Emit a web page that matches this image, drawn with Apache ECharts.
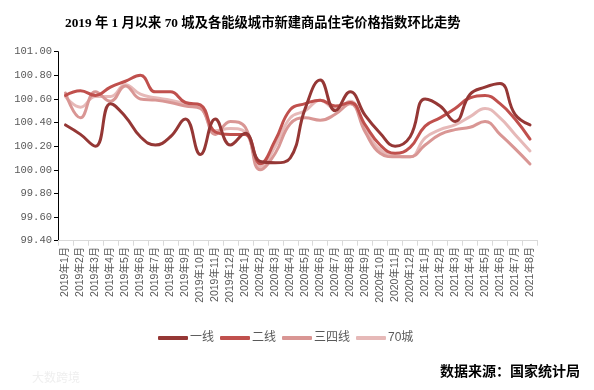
<!DOCTYPE html>
<html>
<head>
<meta charset="utf-8">
<script src="https://cdn.jsdelivr.net/npm/echarts@6/dist/echarts.min.js"></script>
<style>
html,body{margin:0;padding:0;background:#fff;}
#chart{width:594px;height:390px;}
</style>
</head>
<body>
<div id="chart"></div>
<script>
var categories = ['2019年1月','2019年2月','2019年3月','2019年4月','2019年5月','2019年6月','2019年7月','2019年8月','2019年9月','2019年10月','2019年11月','2019年12月',
  '2020年1月','2020年2月','2020年3月','2020年4月','2020年5月','2020年6月','2020年7月','2020年8月','2020年9月','2020年10月','2020年11月','2020年12月',
  '2021年1月','2021年2月','2021年3月','2021年4月','2021年5月','2021年6月','2021年7月','2021年8月'];
var tier1 = [100.38,100.30,100.20,100.56,100.45,100.28,100.21,100.28,100.43,100.13,100.43,100.21,
  100.31,100.07,100.06,100.10,100.52,100.76,100.50,100.66,100.46,100.31,100.20,100.28,
  100.60,100.54,100.41,100.64,100.70,100.73,100.47,100.38];
var tier2 = [100.63,100.67,100.63,100.70,100.75,100.80,100.66,100.66,100.57,100.55,100.32,100.30,
  100.30,100.05,100.25,100.51,100.56,100.59,100.54,100.57,100.38,100.21,100.14,100.19,
  100.37,100.44,100.52,100.61,100.63,100.56,100.43,100.26];
var tier34 = [100.65,100.44,100.66,100.58,100.71,100.60,100.59,100.57,100.54,100.52,100.30,100.41,
  100.36,100.00,100.14,100.39,100.44,100.42,100.47,100.56,100.32,100.14,100.11,100.11,
  100.21,100.30,100.34,100.36,100.41,100.30,100.18,100.05];
var city70 = [100.62,100.53,100.62,100.62,100.72,100.64,100.61,100.59,100.56,100.53,100.33,100.35,
  100.32,100.02,100.20,100.44,100.50,100.59,100.52,100.58,100.34,100.17,100.12,100.11,
  100.27,100.34,100.38,100.45,100.52,100.44,100.30,100.16];
var seriesNames = ['一线','二线','三四线','70城'];
var seriesColors = ['#953735','#C0504D','#D99694','#E6B9B8'];
var yTicks = {min: 99.4, max: 101.0, interval: 0.2};

var chart = echarts.init(document.getElementById('chart'), null, {renderer:'canvas'});
var dataList = [tier1, tier2, tier34, city70];
var series = dataList.map(function(d, i){
  return {
    name: seriesNames[i], type: 'line', data: d, smooth: 0.45,
    showSymbol: false, symbol: 'none',
    lineStyle: {width: 3, color: seriesColors[i], cap: 'round', join: 'round'},
    itemStyle: {color: seriesColors[i]},
    z: 10 - i
  };
});
chart.setOption({
  animation: false,
  backgroundColor: '#fff',
  title: {
    text: '2019 年 1 月以来 70 城及各能级城市新建商品住宅价格指数环比走势',
    left: 60, top: 12,
    textStyle: {fontSize: 13.3, fontWeight: 'bold', color: '#000', fontFamily: '"Liberation Serif","Noto Sans CJK SC"'}
  },
  legend: {
    data: seriesNames, left: 153, top: 327,
    icon: 'roundRect', itemWidth: 30, itemHeight: 4, itemGap: 6,
    textStyle: {fontSize: 12, color: '#595959', fontFamily: '"Liberation Sans","Noto Sans CJK SC"', padding: [0,0,0,-3]}
  },
  grid: {left: 58, right: 56.5, top: 51.7, bottom: 149.3, containLabel: false},
  xAxis: {
    type: 'category', data: categories, boundaryGap: true,
    axisLine: {lineStyle: {color: '#d9d9d9', width: 1}},
    axisTick: {show: true, alignWithLabel: false, length: 5, lineStyle: {color: '#d9d9d9'}},
    axisLabel: {interval: 0, rotate: 90, fontSize: 10.5, color: '#595959', margin: 6,
      fontFamily: '"Liberation Sans","Noto Sans CJK SC"'},
    splitLine: {show: false}
  },
  yAxis: {
    type: 'value', min: yTicks.min, max: yTicks.max, interval: yTicks.interval,
    axisLine: {show: true, lineStyle: {color: '#000', width: 1}},
    axisTick: {show: true, length: 4, lineStyle: {color: '#000'}},
    axisLabel: {fontSize: 10.5, color: '#595959', margin: 6, fontFamily: '"Liberation Mono","DejaVu Sans Mono"',
      formatter: function(v){ return v.toFixed(2); }},
    splitLine: {show: false}
  },
  graphic: [
    {type: 'text', left: 440, top: 364, style: {text: '数据来源：国家统计局', fontSize: 14, fontWeight: 'bold', fill: '#000', fontFamily: '"Noto Sans CJK SC"'}},
    {type: 'text', left: 32, top: 371, style: {text: '大数跨境', fontSize: 12, fill: '#efefef', fontFamily: '"Noto Sans CJK SC"'}}
  ],
  series: series
});
</script>
</body>
</html>
